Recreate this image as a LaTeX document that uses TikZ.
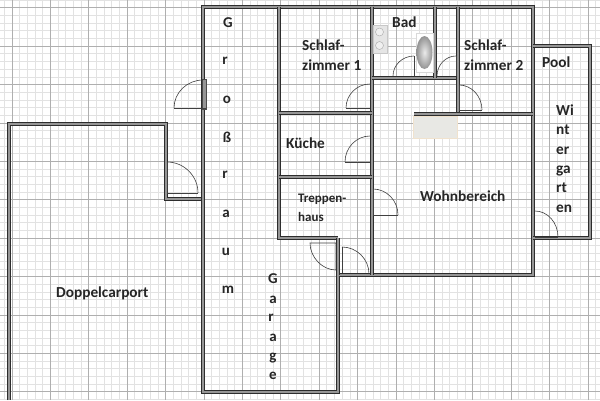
\documentclass[tikz,border=0pt]{standalone}
\usepackage{fontspec}
\setmainfont{Carlito}
\definecolor{minorgrid}{RGB}{226,226,226}
\definecolor{majorgrid}{RGB}{175,175,175}
\definecolor{walldark}{RGB}{45,45,45}
\definecolor{wallfill}{RGB}{150,150,150}
\definecolor{counter}{RGB}{232,232,228}
\definecolor{counteredge}{RGB}{240,226,205}
\tikzset{
  wall/.style={draw=walldark,line width=1pt,double=wallfill,double distance=1.5pt,line join=miter},
  doorline/.style={draw=black!75,line width=0.6pt},
  doorjamb/.style={draw=walldark,line width=1.6pt},
  roomlabel/.style={font=\fontsize{15.3}{19.4}\selectfont\bfseries,text=black!85,align=left,inner sep=0pt},
  smalllabel/.style={font=\fontsize{13}{19}\selectfont\bfseries,text=black!85,align=left,inner sep=0pt},
  letter/.style={font=\fontsize{15}{17}\selectfont\bfseries,text=black!85,inner sep=0pt}
}
% quarter arc: leaves the first point level, reaches the second one upright
\newcommand{\doorarc}[4]{\draw[doorline] (#1,#2) .. controls ({#1+0.55*(#3-#1)},#2) and (#3,{#4+0.55*(#2-#4)}) .. (#3,#4);}
\begin{document}
\begin{tikzpicture}[x=1pt,y=-1pt]
\useasboundingbox (0,0) rectangle (600,400);
\fill[white] (0,0) rectangle (600,400);
% grid
\foreach \k in {-1,...,77}{\draw[minorgrid,line width=0.8pt] ({12+7.68*\k},0) -- ({12+7.68*\k},400);}
\foreach \k in {-1,...,52}{\draw[minorgrid,line width=0.8pt] (0,{7.8+7.68*\k}) -- (600,{7.8+7.68*\k});}
\foreach \k in {0,...,15}{\draw[majorgrid,line width=0.9pt] ({12+38.4*\k},0) -- ({12+38.4*\k},400);}
\foreach \k in {0,...,10}{\draw[majorgrid,line width=0.9pt] (0,{7.8+38.4*\k}) -- (600,{7.8+38.4*\k});}
% walls
\draw[wall] (9,400) -- (9,124) -- (166,124) -- (166,199) -- (203,199);
\draw[wall] (203,392) -- (203,7) -- (533,7) -- (533,275) -- (338,275) -- (338,392) -- cycle;
\draw[wall] (279,7) -- (279,238) -- (338,238);
\draw[wall] (372,7) -- (372,275);
\draw[wall] (279,113) -- (372,113);
\draw[wall] (279,177) -- (372,177);
\draw[wall] (372,78) -- (458,78);
\draw[wall] (435,7) -- (435,78);
\draw[wall] (458,7) -- (458,113);
\draw[wall] (414,114) -- (533,114);
\draw[wall] (533,46) -- (590,46) -- (590,238) -- (533,238);
\draw[wall] (338,238) -- (338,275);
% bathroom fixtures
\fill[black!10,draw=black!22] (373,25) rectangle (387,53);
\draw[black!35,fill=black!6] (379.5,32) circle (4);
\draw[black!35,fill=black!6] (379.5,45.5) circle (4);
\fill[white,draw=black!15] (416,33) rectangle (433,72);
\shade[inner color=black!8,outer color=black!42] (424.5,52.5) ellipse (8 and 16.5);
% kitchen counter
\fill[counter,draw=counteredge,line width=0.8pt] (413.5,116) rectangle (457,138);
% doors
\fill[wallfill,draw=black!70] (202,79) rectangle (206,109);
\doorarc{203}{80}{174}{108}
\draw[doorline] (174,108) -- (206,108);
\doorarc{370}{84}{346}{108}
\draw[doorline] (346,108) -- (370,108);
\doorarc{370}{136}{345}{162}
\draw[doorline] (345,162) -- (370,162);
\doorarc{414}{56}{393}{76}
\draw[doorline] (414,56) -- (414,76);
\doorarc{456}{56}{437}{76}
\draw[doorline] (456,56) -- (456,76);
\doorarc{459}{85}{482}{110}
\draw[doorline] (459,85) -- (459,110) -- (482,110);
\doorarc{373}{189}{398}{215}
\draw[doorline] (373,189) -- (373,215) -- (398,215);
\draw[doorline] (336,270) .. controls (322,270) and (310,257) .. (310,243) -- (336,243) -- (336,270);
\doorarc{342}{247}{369}{274}
\draw[doorline] (342,247) -- (342,273);
\doorarc{167}{162}{198}{193}
\draw[doorline] (167,162) -- (167,193) -- (198,193);
\doorarc{535}{211}{558}{237}
\draw[doorline] (535,237) -- (558,237);
\draw[doorjamb] (534.5,211) -- (534.5,237);
% labels
\node[letter] (g1) at (228,23) {G};
\node[letter] (g2) at (225,61) {r};
\node[letter] (g3) at (227,100) {o};
\node[letter] (g4) at (227,137) {ß};
\node[letter] (g5) at (225,175) {r};
\node[letter] (g6) at (226,214) {a};
\node[letter] (g7) at (226,252) {u};
\node[letter] (g8) at (228,290) {m};
\node[letter] (h1) at (273,279) {G};
\node[letter] (h2) at (273,300) {a};
\node[letter] (h3) at (271,318) {r};
\node[letter] (h4) at (273,338) {a};
\node[letter] (h5) at (273,358) {g};
\node[letter] (h6) at (273,376) {e};
\node[roomlabel,anchor=west] (sz1) at (302,55) {Schlaf-\\zimmer 1};
\node[roomlabel,anchor=west] (sz2) at (464,55) {Schlaf-\\zimmer 2};
\node[roomlabel,anchor=west] (bad) at (392,22) {Bad};
\node[roomlabel,anchor=west] (pool) at (542,62) {Pool};
\node[roomlabel,anchor=west] (kue) at (286,143) {Küche};
\node[smalllabel,anchor=west] (tr) at (298,208) {Treppen-\\haus};
\node[roomlabel,anchor=west] (wb) at (420,196) {Wohnbereich};
\node[roomlabel,anchor=west] (dc) at (56,293) {Doppelcarport};
\node[roomlabel,anchor=west] (wg) at (556,158.5) {Wi\\nt\\er\\ga\\rt\\en};
\end{tikzpicture}
\end{document}
